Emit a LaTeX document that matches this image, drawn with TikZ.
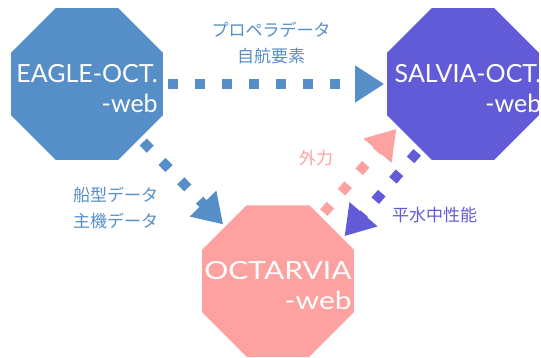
\documentclass[tikz,border=0pt]{standalone}
\usepackage{fontspec}
\setmainfont{Lato}
\newfontfamily\jpfont{Noto Sans CJK JP}
\usetikzlibrary{shapes.geometric,arrows.meta}
\definecolor{eaglecol}{RGB}{86,142,200}
\definecolor{salviacol}{RGB}{98,91,216}
\definecolor{octarviacol}{RGB}{253,161,161}

\begin{document}
\begin{tikzpicture}[
                    x=1pt,y=-1pt,
                    >={Triangle[length=29pt,width=35pt]},
                    oct/.style={regular polygon,regular polygon sides=8,
                        minimum size=164pt,inner sep=0pt,outer sep=0pt},
                    octname/.style={text=white,align=right,inner sep=0pt,
                        font=\fontsize{25}{30}\selectfont},
                    flow/.style={->,line width=10pt,
                        dash pattern=on 10pt off 17pt,dash phase=22pt,
                        shorten >=3pt},
                    note/.style={align=center,inner sep=0pt,
                        font=\jpfont\fontsize{17}{26}\selectfont},
                ]
                \useasboundingbox (0,0) rectangle (541,357);

                \node[oct,fill=eaglecol] (eagle) at (87,84) {} ;
                \node[oct,fill=salviacol] (salvia) at (463,84) {} ;
                \node[oct,fill=octarviacol] (octarvia) at (278,281) {} ;

                \draw[flow,eaglecol] (eagle) -- (salvia) ;
                \draw[flow,eaglecol] (eagle) -- (octarvia) ;
                \draw[flow,octarviacol] ([shift={(-11,-11)}]octarvia.45)
                    -- ([shift={(-11,-11)}]salvia.225) ;
                \draw[flow,salviacol] ([shift={(11,11)}]salvia.225)
                    -- ([shift={(11,11)}]octarvia.45) ;

                \node[octname] (eaglename) at ([yshift=-5pt]eagle.center) {EAGLE-OCT.\\-web} ;
                \node[octname] (salvianame) at ([xshift=5pt,yshift=-5pt]salvia.center) {SALVIA-OCT.\\-web} ;
                \node[octname,xscale=1.2,transform shape] (octarvianame) at ([yshift=-5pt]octarvia.center) {OCTARVIA\\-web} ;

                \node[note,text=eaglecol] (propdata) at (271,42.5) {プロペラデータ\\自航要素} ;
                \node[note,text=eaglecol] (hulldata) at (115.5,208) {船型データ\\主機データ} ;
                \node[note,text=octarviacol] (force) at (316,158) {外力} ;
                \node[note,text=salviacol] (calmwater) at (434.5,215) {平水中性能} ;
            \end{tikzpicture}
\end{document}
